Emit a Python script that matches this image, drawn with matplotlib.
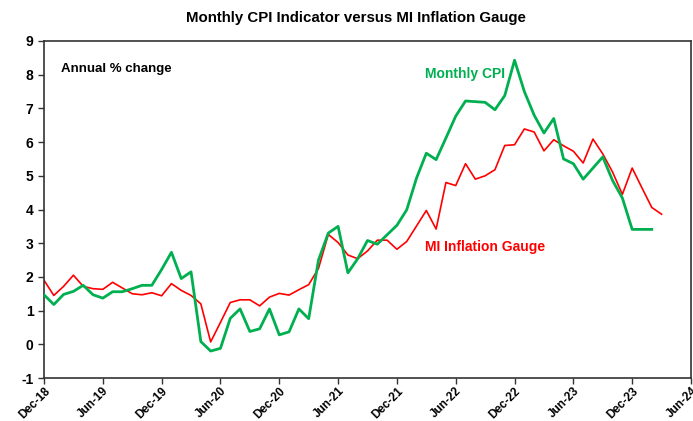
import matplotlib
matplotlib.use("Agg")
import matplotlib.pyplot as plt
import numpy as np

plt.rcParams['font.family'] = ['Liberation Sans', 'DejaVu Sans']

# Monthly data starting Dec-2018
start_label = "Dec-18"
monthly_cpi = [1.47, 1.18, 1.48, 1.57, 1.75, 1.47, 1.37, 1.56, 1.56, 1.65, 1.75, 1.75,
               2.22, 2.73, 1.95, 2.15, 0.08, -0.20, -0.12, 0.77, 1.05, 0.38, 0.46, 1.05,
               0.28, 0.37, 1.05, 0.76, 2.50, 3.30, 3.50, 2.12, 2.54, 3.08, 2.97, 3.25,
               3.53, 3.99, 4.93, 5.67, 5.48, 6.12, 6.77, 7.22, 7.20, 7.18, 6.96, 7.38,
               8.43, 7.50, 6.80, 6.27, 6.70, 5.50, 5.36, 4.90, 5.23, 5.56, 4.86, 4.34,
               3.41, 3.41, 3.41]
mi_gauge = [1.90, 1.45, 1.72, 2.05, 1.72, 1.65, 1.63, 1.84, 1.67, 1.50, 1.47, 1.53,
            1.44, 1.80, 1.60, 1.45, 1.20, 0.07, 0.65, 1.24, 1.32, 1.32, 1.14, 1.40,
            1.51, 1.46, 1.62, 1.77, 2.25, 3.26, 3.02, 2.65, 2.54, 2.77, 3.09, 3.09,
            2.82, 3.05, 3.51, 3.97, 3.42, 4.80, 4.71, 5.36, 4.90, 5.00, 5.18, 5.90,
            5.92, 6.39, 6.30, 5.74, 6.07, 5.89, 5.73, 5.38, 6.09, 5.65, 5.11, 4.45,
            5.23, 4.64, 4.06, 3.86]
tick_labels = ["Dec-18", "Jun-19", "Dec-19", "Jun-20", "Dec-20", "Jun-21",
               "Dec-21", "Jun-22", "Dec-22", "Jun-23", "Dec-23", "Jun-24"]
y_ticks = [-1, 0, 1, 2, 3, 4, 5, 6, 7, 8, 9]

fig = plt.figure(figsize=(6.93, 4.21), dpi=100)
ax = fig.add_axes([44/693, 1-378/421, (691-44)/693, (378-41)/421])

green = '#00B050'
red = '#FF0000'
ax.plot(np.arange(len(mi_gauge)), mi_gauge, color=red, lw=1.2, zorder=2)
ax.plot(np.arange(len(monthly_cpi)), monthly_cpi, color=green, lw=2.0, zorder=3)

ax.set_xlim(0, 66)
ax.set_ylim(-1, 9)
ax.set_xticks(np.arange(0, 67, 6))
ax.set_xticklabels(tick_labels, rotation=45, ha='right', rotation_mode='anchor',
                   fontsize=8.5, fontweight='bold')
ax.set_yticks(y_ticks)
ax.set_yticklabels([str(v) for v in y_ticks], fontsize=10, fontweight='bold')
ax.tick_params(axis='both', direction='out', length=4, width=1, color='#333333')
ax.tick_params(axis='x', pad=1)
for s in ax.spines.values():
    s.set_linewidth(1.2)
    s.set_color('#333333')

ax.text(0.027, 0.917, "Annual % change", transform=ax.transAxes, fontsize=9.5,
        fontweight='bold', va='center', ha='left')
ax.text(0.651, 0.902, "Monthly CPI", transform=ax.transAxes, fontsize=10,
        fontweight='bold', color=green, ha='center', va='center')
ax.text(0.682, 0.389, "MI Inflation Gauge", transform=ax.transAxes, fontsize=10,
        fontweight='bold', color=red, ha='center', va='center')

fig.text(356/693, 1-18/421, "Monthly CPI Indicator versus MI Inflation Gauge",
         fontsize=10.8, fontweight='bold', ha='center', va='center')

fig.savefig("out.png", dpi=100)
